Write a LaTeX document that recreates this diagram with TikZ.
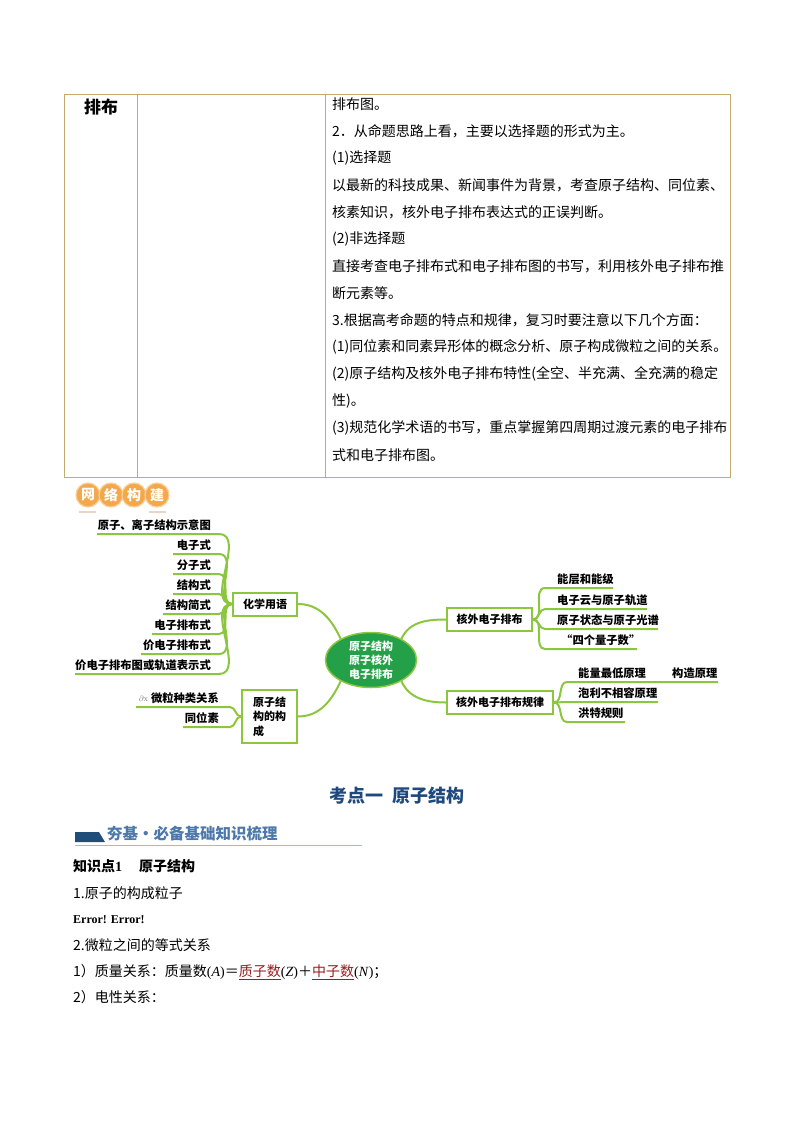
\documentclass[tikz,border=0pt]{standalone}
\usepackage{fontspec}
\setmainfont{Liberation Serif}
\newfontfamily\cjk{Noto Sans CJK SC}
\usetikzlibrary{shapes.geometric}
\definecolor{tab}{RGB}{196,170,110}
\definecolor{mg}{RGB}{140,198,63}
\definecolor{cg}{RGB}{36,160,72}
\definecolor{org}{RGB}{243,168,76}
\definecolor{orgl}{RGB}{250,208,156}
\definecolor{orgu}{RGB}{232,214,196}
\definecolor{kd}{RGB}{31,73,125}
\definecolor{hb}{RGB}{76,120,170}
\definecolor{bar}{RGB}{31,78,121}
\definecolor{barl}{RGB}{165,185,205}
\definecolor{dr}{RGB}{150,30,30}
\begin{document}
\begin{tikzpicture}[x=1pt,y=-1pt,
  tabline/.style={draw=tab, line width=1pt},
  txt/.style={font=\cjk\fontsize{14}{16}\selectfont, anchor=west, inner sep=0pt},
  leaf/.style={font=\cjk\bfseries\fontsize{11.3}{13}\selectfont, inner sep=0pt},
  branch/.style={draw=mg, line width=2pt},
  mbox/.style={draw=mg, line width=2pt, fill=white, font=\cjk\bfseries\fontsize{11}{14.5}\selectfont, minimum height=23pt, inner sep=0pt},
  badge/.style={circle, fill=org, draw=orgl, line width=1.2pt, minimum size=24pt, inner sep=0pt, text=white, font=\cjk\bfseries\fontsize{14}{14}\selectfont},
]
\useasboundingbox (0,0) rectangle (794,1123);

% ---------- table ----------
\draw[tabline] (64,95) rectangle (730,477);
\draw[tabline] (137,95) -- (137,477);
\draw[tabline] (325,95) -- (325,477);
\node[font=\cjk\bfseries\fontsize{17}{17}\selectfont, inner sep=0pt] (hd) at (101,107) {排布};

\node[txt] (t1) at (332,104) {排布图。};
\node[txt] (t2) at (332,131) {2．从命题思路上看，主要以选择题的形式为主。};
\node[txt] (t3) at (332,158) {(1)选择题};
\node[txt] (t4) at (332,185) {以最新的科技成果、新闻事件为背景，考查原子结构、同位素、};
\node[txt] (t5) at (332,212) {核素知识，核外电子排布表达式的正误判断。};
\node[txt] (t6) at (332,239) {(2)非选择题};
\node[txt] (t7) at (332,266) {直接考查电子排布式和电子排布图的书写，利用核外电子排布推};
\node[txt] (t8) at (332,293) {断元素等。};
\node[txt] (t9) at (332,320) {3.根据高考命题的特点和规律，复习时要注意以下几个方面：};
\node[txt] (t10) at (332,347) {(1)同位素和同素异形体的概念分析、原子构成微粒之间的关系。};
\node[txt] (t11) at (332,374) {(2)原子结构及核外电子排布特性(全空、半充满、全充满的稳定};
\node[txt] (t12) at (332,401) {性)。};
\node[txt] (t13) at (332,428) {(3)规范化学术语的书写，重点掌握第四周期过渡元素的电子排布};
\node[txt] (t14) at (332,455) {式和电子排布图。};

% ---------- badge ----------
\node[badge] (bd1) at (88,495) {网};
\node[badge] (bd2) at (111,495) {络};
\node[badge] (bd3) at (134,495) {构};
\node[badge] (bd4) at (157,495) {建};
\draw[orgu, line width=2pt] (bd1.south) ++(-9,4) coordinate (ua) -- ++(17,0);
\draw[orgu, line width=2pt] (bd4.south) ++(-8,4) coordinate (ub) -- ++(17,0);

% ---------- mind map: centre ----------
\node[ellipse, fill=cg, draw=mg, line width=1.5pt, minimum width=91pt, minimum height=55pt, inner sep=0pt,
      font=\cjk\bfseries\fontsize{11}{14}\selectfont, text=white, align=center] (c) at (371,660) {原子结构\\原子核外\\电子排布};

\node[mbox, minimum width=64pt] (hx) at (265,604) {化学用语};
\node[mbox, minimum width=55pt, minimum height=53pt, align=left] (bx) at (269.5,716.5) {原子结\\构的构\\成};
\node[mbox, minimum width=85pt] (he) at (489.5,619.5) {核外电子排布};
\node[mbox, minimum width=106pt] (hr) at (500,702.5) {核外电子排布规律};

\draw[branch] (hx.east) to[out=0,in=115] (c.145);
\draw[branch] (bx.east) to[out=0,in=-115] (c.215);
\draw[branch] (c.35) to[out=65,in=180] (he.west);
\draw[branch] (c.-35) to[out=-65,in=180] (hr.west);

% ---------- left leaves (化学用语) ----------
\node[leaf, anchor=base east] (a1) at (211,529) {原子、离子结构示意图};
\node[leaf, anchor=base east] (a2) at (211,549) {电子式};
\node[leaf, anchor=base east] (a3) at (211,569) {分子式};
\node[leaf, anchor=base east] (a4) at (211,589) {结构式};
\node[leaf, anchor=base east] (a5) at (211,609) {结构简式};
\node[leaf, anchor=base east] (a6) at (211,629) {电子排布式};
\node[leaf, anchor=base east] (a7) at (211,649) {价电子排布式};
\node[leaf, anchor=base east] (a8) at (211,669) {价电子排布图或轨道表示式};
\coordinate (u1) at (97,534);
\coordinate (u2) at (173,554);
\coordinate (u3) at (173,574);
\coordinate (u4) at (173,594);
\coordinate (u5) at (163,614);
\coordinate (u6) at (152,634);
\coordinate (u7) at (141,654);
\coordinate (u8) at (75,674);
\foreach \i/\y in {1/534,2/554,3/574,4/594,5/614,6/634,7/654,8/674}
  \draw[branch] (u\i) -- (219,\y) to[out=0,in=180] (hx.west);

% ---------- left leaves (原子结构的构成) ----------
\node[leaf, anchor=base east] (b1) at (219,702) {微粒种类关系};
\node[leaf, anchor=base east] (b2) at (219,722) {同位素};
\node[font=\fontsize{8}{8}\selectfont, text=gray, inner sep=0pt, anchor=east] (bi) at (148,699) {$\partial$x};
\coordinate (v1) at (136,707);
\coordinate (v2) at (183,727);
\draw[branch] (v1) -- (230,707) to[out=0,in=180] (bx.west);
\draw[branch] (v2) -- (230,727) to[out=0,in=180] (bx.west);

% ---------- right leaves (核外电子排布) ----------
\node[leaf, anchor=base west] (r1) at (557,583) {能层和能级};
\node[leaf, anchor=base west] (r2) at (557,604) {电子云与原子轨道};
\node[leaf, anchor=base west] (r3) at (557,624) {原子状态与原子光谱};
\node[leaf, anchor=base west] (r4) at (561,644) {“四个量子数”};
\coordinate (e1) at (613,588);
\coordinate (e2) at (647,609);
\coordinate (e3) at (658,629);
\coordinate (e4) at (637,649);
\foreach \i/\y in {1/588,2/609,3/629,4/649}
  \draw[branch] (he.east) to[out=0,in=180] (545,\y) -- (e\i);

% ---------- right leaves (核外电子排布规律) ----------
\node[leaf, anchor=base west] (g1) at (578,677) {能量最低原理};
\node[leaf, anchor=base west] (g1b) at (672,677) {构造原理};
\node[leaf, anchor=base west] (g2) at (578,697) {泡利不相容原理};
\node[leaf, anchor=base west] (g3) at (578,717) {洪特规则};
\coordinate (f1) at (718,682);
\coordinate (f2) at (658,702);
\coordinate (f3) at (625,722);
\foreach \i/\y in {1/682,2/702,3/722}
  \draw[branch] (hr.east) to[out=0,in=180] (567,\y) -- (f\i);

% ---------- lower text ----------
\node[font=\cjk\bfseries\fontsize{18}{18}\selectfont, text=kd, inner sep=0pt] (kt) at (397,796) {考点一\hspace{9pt}原子结构};

\fill[bar] (75,832) -- (99,832) -- (105,842) -- (75,842) -- cycle;
\node[font=\cjk\bfseries\fontsize{15.5}{16}\selectfont, text=hb, anchor=west, inner sep=0pt] (hj) at (107,834) {夯基·必备基础知识梳理};
\draw[barl, line width=1pt] (75,845) -- (362,845);

\node[font=\cjk\bfseries\fontsize{14}{16}\selectfont, anchor=west, inner sep=0pt] (k1) at (73,866) {知识点{\rmfamily 1}\hspace{17pt}原子结构};
\node[txt] (p1) at (73,893) {1.原子的构成粒子};
\node[font=\bfseries\fontsize{12}{14}\selectfont, anchor=west, inner sep=0pt] (p2) at (73,920) {Error! Error!};
\node[txt] (p3) at (73,945) {2.微粒之间的等式关系};
\node[txt] (p4) at (73,972) {1）质量关系：质量数{\rmfamily(\textit{A})}＝\textcolor{dr}{\underline{质子数}}{\rmfamily(\textit{Z})}＋\textcolor{dr}{\underline{中子数}}{\rmfamily(\textit{N})}；};
\node[txt] (p5) at (73,997) {2）电性关系：};
\end{tikzpicture}
\end{document}
